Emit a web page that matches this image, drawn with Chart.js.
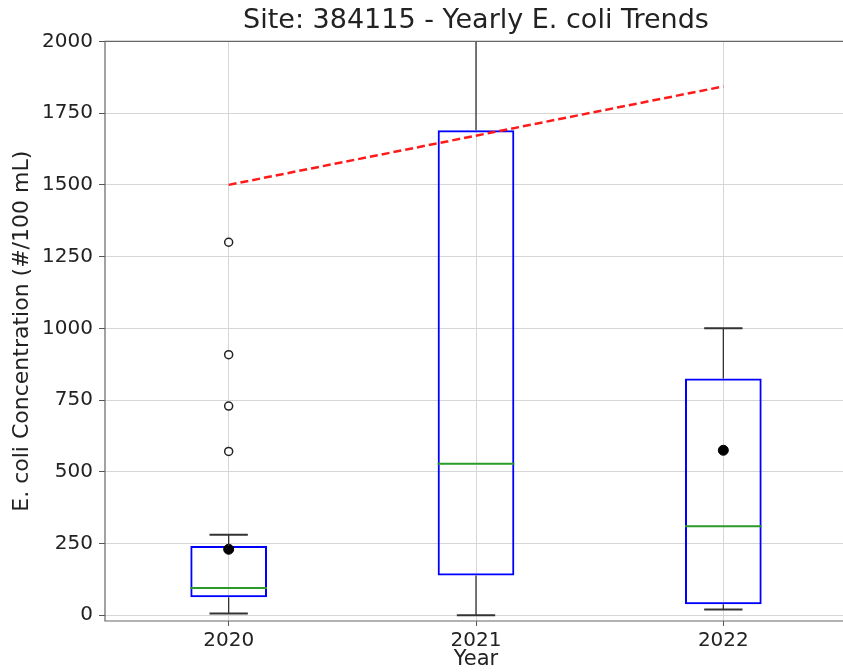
<!DOCTYPE html>
<html>
<head>
<meta charset="utf-8">
<script src="https://cdn.jsdelivr.net/npm/chart.js@4"></script>
<style>
  html, body { margin: 0; padding: 0; background: #fff; overflow: hidden; }
</style>
</head>
<body>
<canvas id="myChart" width="847" height="672"></canvas>
<script>
// data
let years = ['2020', '2021', '2022'];
let q1 = [63, 139, 38];
let q3 = [241, 1690, 825];
let medians = [95, 528, 310];
let whiskerLow = [6, 0, 20];
let whiskerHigh = [281, 2400, 1000];
let means = [230, null, 575];
let outliers2020 = [1300, 908, 729, 571];
let trend = [1500, null, 1843];
let yTicks = [0, 250, 500, 750, 1000, 1250, 1500, 1750, 2000];

// whiskers, caps, medians and the frame
const boxPlugin = {
  id: 'boxParts',
  afterDatasetsDraw(chart) {
    const ctx = chart.ctx;
    const x = chart.scales.x;
    const y = chart.scales.y;
    const area = chart.chartArea;
    const bars = chart.getDatasetMeta(3).data;
    ctx.save();
    ctx.beginPath();
    ctx.rect(area.left, area.top, area.right - area.left, area.bottom - area.top);
    ctx.clip();
    for (let i = 0; i < years.length; i++) {
      const cx = x.getPixelForValue(i);
      const half = bars[i].width / 2;
      ctx.strokeStyle = '#333';
      ctx.lineWidth = 1.3;
      ctx.beginPath();
      ctx.moveTo(cx, y.getPixelForValue(q1[i]));
      ctx.lineTo(cx, y.getPixelForValue(whiskerLow[i]));
      ctx.moveTo(cx, y.getPixelForValue(q3[i]));
      ctx.lineTo(cx, y.getPixelForValue(whiskerHigh[i]));
      ctx.stroke();
      ctx.lineWidth = 2;
      ctx.beginPath();
      ctx.moveTo(cx - half / 2, y.getPixelForValue(whiskerLow[i]));
      ctx.lineTo(cx + half / 2, y.getPixelForValue(whiskerLow[i]));
      ctx.moveTo(cx - half / 2, y.getPixelForValue(whiskerHigh[i]));
      ctx.lineTo(cx + half / 2, y.getPixelForValue(whiskerHigh[i]));
      ctx.stroke();
      ctx.strokeStyle = '#2a9a2a';
      ctx.lineWidth = 2;
      ctx.beginPath();
      ctx.moveTo(cx - half, y.getPixelForValue(medians[i]));
      ctx.lineTo(cx + half, y.getPixelForValue(medians[i]));
      ctx.stroke();
    }
    ctx.restore();
    // frame: right side falls off the picture
    ctx.save();
    ctx.strokeStyle = '#666';
    ctx.lineWidth = 1.2;
    ctx.beginPath();
    ctx.moveTo(area.right + 5, area.top);
    ctx.lineTo(area.left, area.top);
    ctx.lineTo(area.left, area.bottom);
    ctx.lineTo(area.right + 5, area.bottom);
    ctx.stroke();
    ctx.restore();
  }
};

let ctx = document.getElementById('myChart').getContext('2d');
let chart = new Chart(ctx, {
  data: {
    labels: years,
    datasets: [
      {
        type: 'line',
        label: 'trend',
        data: trend,
        spanGaps: true,
        borderColor: '#ff1a1a',
        borderWidth: 2.5,
        borderDash: [8, 4],
        pointRadius: 0,
        order: 1
      },
      {
        type: 'line',
        label: 'mean',
        data: means,
        showLine: false,
        pointRadius: 5,
        pointBackgroundColor: '#000',
        pointBorderColor: '#000',
        order: 2
      },
      {
        type: 'line',
        label: 'outliers',
        data: outliers2020.map(v => ({ x: years[0], y: v })),
        showLine: false,
        pointRadius: 4,
        pointBorderWidth: 1.5,
        pointBackgroundColor: '#fff',
        pointBorderColor: '#222',
        order: 3
      },
      {
        type: 'bar',
        label: 'box',
        data: years.map((yr, i) => [q1[i], q3[i]]),
        backgroundColor: 'rgba(0,0,0,0)',
        borderColor: '#0000ff',
        borderWidth: 2,
        borderSkipped: false,
        barPercentage: 0.31,
        categoryPercentage: 1,
        order: 4
      }
    ]
  },
  options: {
    responsive: false,
    animation: false,
    layout: { padding: 0, autoPadding: false },
    plugins: {
      legend: { display: false },
      tooltip: { enabled: false },
      title: {
        display: true,
        fullSize: false,
        text: 'Site: 384115 - Yearly E. coli Trends',
        color: '#222',
        font: { family: 'DejaVu Sans', size: 27, weight: 'normal' },
        padding: { top: 5, bottom: 4 }
      }
    },
    scales: {
      x: {
        type: 'category',
        offset: true,
        grid: { offset: false, color: '#d6d6d6', tickColor: '#555', tickLength: 5 },
        border: { display: false },
        ticks: { color: '#222', padding: 3, font: { family: 'DejaVu Sans', size: 20 } },
        title: {
          display: true,
          text: 'Year',
          color: '#222',
          padding: { top: 0, bottom: 0 },
          font: { family: 'DejaVu Sans', size: 21 }
        },
        afterFit(s) { s.height = 51; }
      },
      y: {
        min: -20,
        max: 2000,
        afterBuildTicks(s) { s.ticks = yTicks.map(v => ({ value: v })); },
        grid: { color: '#d6d6d6', tickColor: '#555', tickLength: 6 },
        border: { display: false },
        ticks: {
          color: '#222',
          padding: 6,
          font: { family: 'DejaVu Sans', size: 20 },
          callback: v => String(v)
        },
        title: {
          display: true,
          text: 'E. coli Concentration (#/100 mL)',
          color: '#222',
          padding: { top: 9, bottom: 0 },
          font: { family: 'DejaVu Sans', size: 22 }
        },
        afterFit(s) { s.width = 105; }
      }
    }
  },
  plugins: [boxPlugin]
});
</script>
</body>
</html>
